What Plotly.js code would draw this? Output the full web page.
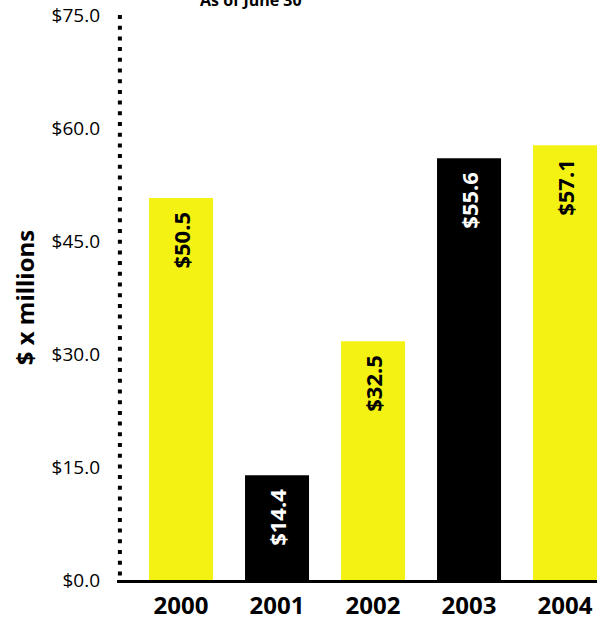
<!DOCTYPE html>
<html>
<head>
<meta charset="utf-8">
<script src="https://cdn.plot.ly/plotly-3.0.1.min.js"></script>
<style>html,body{margin:0;padding:0;background:#fff;}#chart{width:607px;height:618px;}</style>
</head>
<body>
<div id="chart"></div>
<script>
// Data
const years = ["2000", "2001", "2002", "2003", "2004"];
const barHeights = [50.7, 13.9, 31.7, 56.0, 57.7];   // bar tops as drawn
const barLabels = ["$50.5", "$14.4", "$32.5", "$55.6", "$57.1"];
const barColors = ["#f4f213", "#000000", "#f4f213", "#000000", "#f4f213"];
const labelColors = ["#000000", "#ffffff", "#000000", "#ffffff", "#000000"];
const yTitle = "$ x millions";
const subTitle = "As of June 30";

const FONT = "'Open Sans', 'Noto Sans', sans-serif";

const trace = {
  type: "bar",
  x: years,
  y: barHeights,
  marker: { color: barColors, line: { width: 0 } },
  hoverinfo: "skip"
};

// labels placed through the category axis (index of each category)
const annotations = years.map((yr, i) => ({
  x: years.indexOf(yr), y: barHeights[i], xref: "x", yref: "y",
  text: "<b>" + barLabels[i] + "</b>",
  textangle: -90,
  showarrow: false,
  xanchor: "center", yanchor: "top",
  yshift: -12,
  font: { family: FONT, size: 22, color: labelColors[i] }
}));

annotations.push({
  xref: "paper", yref: "paper", x: 0.28, y: 1.027,
  xanchor: "center", yanchor: "middle",
  text: "<b>" + subTitle + "</b>", showarrow: false,
  font: { family: FONT, size: 16, color: "#000" }
});

const layout = {
  width: 607, height: 618,
  margin: { l: 117, r: 10, t: 15, b: 38, pad: 0 },
  paper_bgcolor: "#ffffff", plot_bgcolor: "#ffffff",
  showlegend: false,
  bargap: 1/3,
  font: { family: FONT, color: "#000" },
  xaxis: {
    type: "category",
    range: [-0.667, 4.333],
    showline: true, linecolor: "#000", linewidth: 3,
    showgrid: false, zeroline: false, ticks: "",
    tickfont: { family: FONT, size: 24, color: "#000", weight: "bold" },
    ticklabelstandoff: 2
  },
  yaxis: {
    range: [0, 75], dtick: 15, tick0: 0,
    tickprefix: "$", tickformat: ".1f",
    showline: false, showgrid: false, zeroline: false, ticks: "",
    tickfont: { family: FONT, size: 19, color: "#000" },
    ticklabelstandoff: 16,
    title: { text: "<b>" + yTitle + "</b>", font: { family: FONT, size: 24, color: "#000" }, standoff: 10 }
  },
  shapes: [{
    type: "line", xref: "paper", yref: "paper",
    x0: 0.006, x1: 0.006, y0: 1, y1: 0.004,
    line: { color: "#000", width: 4, dash: "4px,6.7px" }
  }],
  annotations: annotations
};

Plotly.newPlot("chart", [trace], layout, { displayModeBar: false, staticPlot: true });
</script>
</body>
</html>
